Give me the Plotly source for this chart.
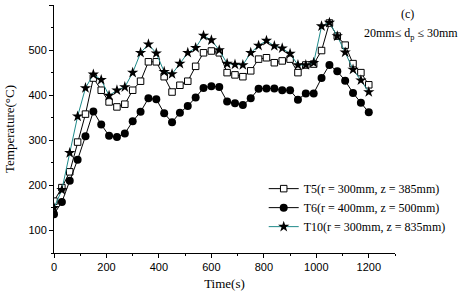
import plotly.graph_objects as go

time_s = list(range(0, 1201, 30))

t5 = [165, 195, 230, 296, 358, 438, 411, 385, 374, 380, 411, 431, 474, 474, 441, 407,
      422, 431, 464, 494, 498, 494, 450, 445, 441, 454, 480, 483, 472, 476, 480, 450,
      467, 469, 499, 560, 531, 511, 470, 450, 423]

t6 = [136, 163, 210, 257, 309, 364, 335, 310, 307, 315, 342, 363, 393, 391, 360, 340,
      361, 376, 395, 416, 420, 418, 386, 382, 378, 393, 414, 415, 415, 411, 411, 390,
      404, 404, 438, 467, 453, 432, 405, 383, 362]

t10 = [150, 190, 272, 353, 416, 446, 434, 399, 411, 418, 450, 494, 513, 493, 452, 447,
       470, 494, 505, 532, 522, 500, 470, 468, 467, 494, 510, 521, 509, 504, 492, 467,
       467, 472, 553, 561, 531, 495, 457, 433, 407]

names = ["T5(r = 300mm, z = 385mm)", "T6(r = 400mm, z = 500mm)", "T10(r = 300mm, z = 835mm)"]

serif = "Liberation Serif, Times New Roman, serif"
sans = "Liberation Sans, Arial, sans-serif"

fig = go.Figure()
fig.add_trace(go.Scatter(
    x=time_s, y=t5, name=names[0], mode="lines+markers",
    line=dict(color="black", width=1),
    marker=dict(symbol="square", size=6.5, color="white", line=dict(color="black", width=1)),
))
fig.add_trace(go.Scatter(
    x=time_s, y=t6, name=names[1], mode="lines+markers",
    line=dict(color="black", width=1),
    marker=dict(symbol="circle", size=8, color="black", line=dict(width=0)),
))
fig.add_trace(go.Scatter(
    x=time_s, y=t10, name=names[2], mode="lines+markers",
    line=dict(color="#1f8a8a", width=1),
    marker=dict(symbol="star", size=8.5, color="black", line=dict(width=0)),
))

fig.update_layout(
    width=460, height=291,
    margin=dict(l=54, r=65, t=5, b=38),
    paper_bgcolor="white", plot_bgcolor="white",
    showlegend=True,
    legend=dict(
        x=0.615, y=0.318, xanchor="left", yanchor="top",
        font=dict(family=serif, size=12, color="black"),
        bgcolor="rgba(0,0,0,0)", borderwidth=0,
        tracegroupgap=0, itemsizing="trace",
    ),
    xaxis=dict(
        range=[0, 1300], dtick=200, tick0=0, automargin=False,
        showline=True, linecolor="black", linewidth=1,
        ticks="outside", ticklen=4, tickcolor="black", tickwidth=1,
        minor=dict(dtick=100, ticks="outside", ticklen=2, tickcolor="black"),
        showgrid=False, zeroline=False,
        tickfont=dict(family=sans, size=11, color="black"),
        title=dict(text="Time(s)", font=dict(family=serif, size=13, color="black"), standoff=6),
    ),
    yaxis=dict(
        range=[50, 600], dtick=100, tick0=0, automargin=False,
        showline=True, linecolor="black", linewidth=1,
        ticks="outside", ticklen=4, tickcolor="black", tickwidth=1,
        minor=dict(dtick=50, ticks="outside", ticklen=2, tickcolor="black"),
        showgrid=False, zeroline=False,
        tickfont=dict(family=sans, size=11, color="black"),
        title=dict(text="Temperature(°C)", font=dict(family=serif, size=13, color="black"), standoff=10),
    ),
    annotations=[
        dict(text="(c)", x=1.038, y=0.964, xref="paper", yref="paper",
             xanchor="center", yanchor="middle",
             showarrow=False, font=dict(family=serif, size=12, color="black")),
        dict(text="20mm≤ d<sub>p</sub> ≤ 30mm", x=1.047, y=0.882, xref="paper", yref="paper",
             xanchor="center", yanchor="middle",
             showarrow=False, font=dict(family=serif, size=12, color="black")),
    ],
)

fig.write_html("out.html", config={"displayModeBar": False},
               post_script="document.body.style.margin='0px';")
